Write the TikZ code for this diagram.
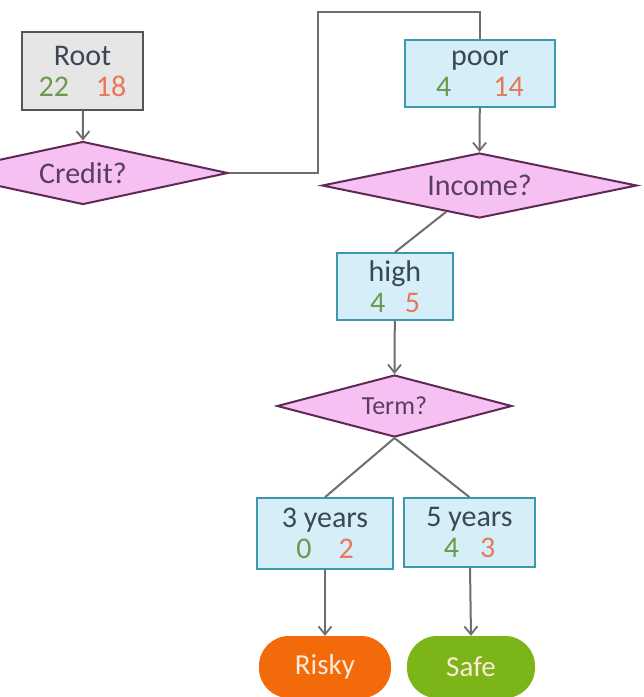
\documentclass[tikz,border=0pt]{standalone}
\usepackage{fontspec}
\setmainfont{Carlito}
\usetikzlibrary{shapes.geometric,arrows.meta}

\definecolor{txt}{HTML}{3B4656}
\definecolor{dtxt}{HTML}{5A3D63}
\definecolor{cntg}{HTML}{6A9A4A}
\definecolor{cntr}{HTML}{E8785A}
\definecolor{grayfill}{HTML}{E6E6E6}
\definecolor{grayedge}{HTML}{555555}
\definecolor{bluefill}{HTML}{D5EEF8}
\definecolor{blueedge}{HTML}{3D97AD}
\definecolor{pinkfill}{HTML}{F6C1F2}
\definecolor{pinkedge}{HTML}{5E2A55}
\definecolor{riskyfill}{HTML}{F26A0A}
\definecolor{safefill}{HTML}{7CB518}
\definecolor{leaftxt}{HTML}{FBEAD8}
\definecolor{wire}{HTML}{6E6E6E}

\newcommand{\cnt}[3]{{\color{cntg}#1}\hspace{#3}{\color{cntr}#2}}

\tikzset{
  lbl/.style={font=\fontsize{30}{31}\selectfont, text=txt, align=center, inner sep=0pt},
  rootbox/.style={lbl, rectangle, draw=grayedge, fill=grayfill, line width=1.6pt},
  splitbox/.style={lbl, rectangle, draw=blueedge, fill=bluefill, line width=1.6pt},
  question/.style={diamond, draw=pinkedge, fill=pinkfill, line width=2pt, inner sep=0pt, aspect=4.7,
    font=\fontsize{30}{32}\selectfont, text=dtxt},
  leaf/.style={rectangle, rounded corners=30pt, inner sep=0pt, font=\fontsize{29}{30}\selectfont, text=leaftxt},
  link/.style={draw=wire, line width=2pt},
  flow/.style={link, -{Straight Barb[length=8pt,width=13pt,line width=1.8pt]}}
}

\begin{document}
\begin{tikzpicture}[x=1pt, y=-1pt]
  \useasboundingbox (0,0) rectangle (644,697);
  \fill[white] (0,0) rectangle (644,697);

  % split nodes
  \node[rootbox, minimum width=121pt, minimum height=78pt] (root) at (82.5,71) {Root\\\cnt{22}{18}{0.9em}};
  \node[splitbox, minimum width=150pt, minimum height=67pt] (poor) at (480,73.5) {poor\\\cnt{4}{14}{1.4em}};
  \node[splitbox, minimum width=116pt, minimum height=67pt] (high) at (395,286.5) {high\\\cnt{4}{5}{0.65em}};
  \node[splitbox, minimum width=136pt, minimum height=71pt] (three) at (325,533.5) {3 years\\\cnt{0}{2}{0.9em}};
  \node[splitbox, minimum width=131pt, minimum height=69pt] (five) at (469.5,532.5) {5 years\\\cnt{4}{3}{0.7em}};

  % questions
  \node[question, minimum width=290pt, minimum height=63pt] (credit) at (83,173) {Credit?};
  \node[question, minimum width=315pt, minimum height=65pt] (income) at (479.5,185.5) {Income?};
  \node[question, minimum width=235pt, minimum height=62pt, font=\fontsize{26}{28}\selectfont] (term) at (394.5,406) {Term?};

  % outcomes
  \node[leaf, fill=riskyfill, minimum width=132pt, minimum height=62pt] (risky) at (325,667) {Risky};
  \node[leaf, fill=safefill, minimum width=128pt, minimum height=62pt] (safe) at (471,667) {Safe};

  % connectors
  \coordinate (bend) at (318,12);
  \draw[flow] (root) -- (credit.north);
  \draw[link] (credit.east) -| (bend) -| (poor.north);
  \draw[flow] (poor) -- (income.north);
  \draw[link] (income) -- (high.north);
  \draw[flow] (high) -- (term.north);
  \draw[link] (term.south) -- (three.north);
  \draw[link] (term.south) -- (five.north);
  \draw[flow] (three) -- (risky.north);
  \draw[flow] (five) -- (safe.north);
\end{tikzpicture}
\end{document}
